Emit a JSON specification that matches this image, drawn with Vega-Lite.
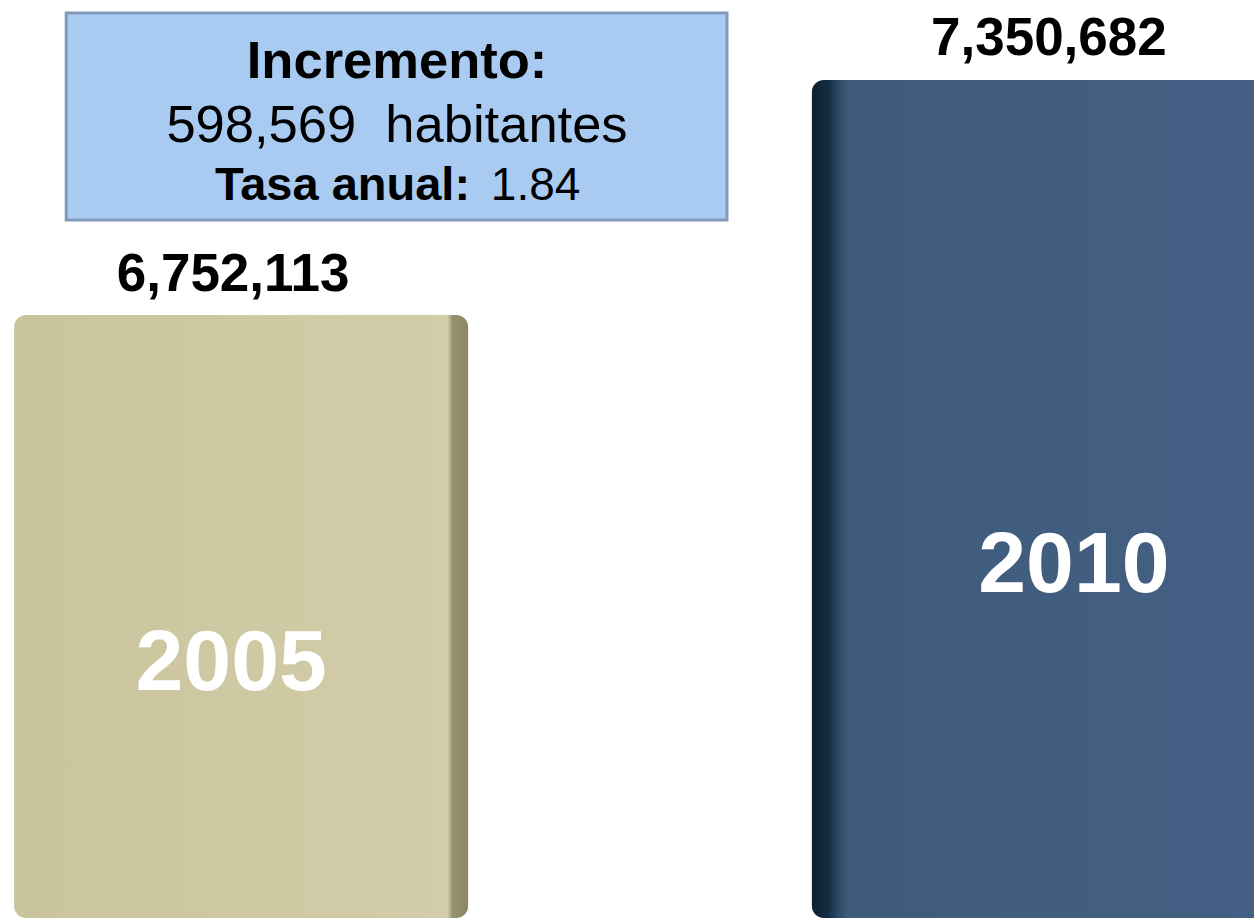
{
  "$schema": "https://vega.github.io/schema/vega-lite/v6.json",
  "width": 1254,
  "height": 918,
  "padding": 0,
  "autosize": {"type": "fit", "contains": "padding"},
  "background": "white",
  "config": {"view": {"stroke": null}, "font": "Liberation Sans"},
  "datasets": {
    "pop": [
      {"year": 2005, "population": 6752113},
      {"year": 2010, "population": 7350682}
    ]
  },
  "resolve": {"scale": {"x": "shared", "y": "shared"}},
  "layer": [
    {
      "data": {"values": [{"label": "box"}]},
      "mark": {"type": "rect", "fill": "#A9CBF2", "stroke": "#8199BA", "strokeWidth": 3},
      "encoding": {
        "x": {"datum": 2003.9035, "type": "quantitative", "scale": {"domain": [2003.52, 2011.317], "nice": false, "zero": false}, "axis": null},
        "x2": {"datum": 2008.045},
        "y": {"datum": 7521339, "type": "quantitative", "scale": {"domain": [5216300, 7554450], "nice": false, "zero": false}, "axis": null},
        "y2": {"datum": 6994110}
      }
    },
    {
      "data": {"name": "pop"},
      "transform": [{"filter": "datum.year == 2005"}],
      "mark": {"type": "bar", "size": 454, "cornerRadius": 12, "clip": true,
        "color": {"gradient": "linear", "x1": 0, "y1": 0, "x2": 1, "y2": 0,
          "stops": [
            {"offset": 0, "color": "#C9C39E"},
            {"offset": 0.5, "color": "#CEC8A3"},
            {"offset": 0.955, "color": "#D3CCA8"},
            {"offset": 0.965, "color": "#979270"},
            {"offset": 1, "color": "#8A8563"}
          ]}},
      "encoding": {
        "x": {"field": "year", "type": "quantitative"},
        "y": {"field": "population", "type": "quantitative"},
        "y2": {"datum": 5216300}
      }
    },
    {
      "data": {"name": "pop"},
      "transform": [{"filter": "datum.year == 2010"}],
      "mark": {"type": "bar", "size": 454, "cornerRadius": 12, "clip": true,
        "color": {"gradient": "linear", "x1": 0, "y1": 0, "x2": 1, "y2": 0,
          "stops": [
            {"offset": 0, "color": "#0D2030"},
            {"offset": 0.035, "color": "#142C42"},
            {"offset": 0.06, "color": "#2F4A68"},
            {"offset": 0.08, "color": "#3E5B7C"},
            {"offset": 1, "color": "#445F83"}
          ]}},
      "encoding": {
        "x": {"field": "year", "type": "quantitative"},
        "y": {"field": "population", "type": "quantitative"},
        "y2": {"datum": 5216300}
      }
    },
    {
      "data": {"name": "pop"},
      "transform": [{"filter": "datum.year == 2005"}],
      "mark": {"type": "text", "fontSize": 53, "fontWeight": "bold", "color": "black", "baseline": "alphabetic", "dy": -24, "dx": -8},
      "encoding": {
        "x": {"field": "year", "type": "quantitative"},
        "y": {"field": "population", "type": "quantitative"},
        "text": {"field": "population", "type": "quantitative", "format": ",d"}
      }
    },
    {
      "data": {"name": "pop"},
      "transform": [{"filter": "datum.year == 2010"}],
      "mark": {"type": "text", "fontSize": 53, "fontWeight": "bold", "color": "black", "baseline": "alphabetic", "dy": -25, "dx": 10},
      "encoding": {
        "x": {"field": "year", "type": "quantitative"},
        "y": {"field": "population", "type": "quantitative"},
        "text": {"field": "population", "type": "quantitative", "format": ",d"}
      }
    },
    {
      "data": {"name": "pop"},
      "transform": [{"filter": "datum.year == 2005"}],
      "mark": {"type": "text", "fontSize": 86, "fontWeight": "bold", "color": "white", "baseline": "alphabetic", "dy": 375, "dx": -10},
      "encoding": {
        "x": {"field": "year", "type": "quantitative"},
        "y": {"field": "population", "type": "quantitative"},
        "text": {"field": "year", "type": "nominal"}
      }
    },
    {
      "data": {"name": "pop"},
      "transform": [{"filter": "datum.year == 2010"}],
      "mark": {"type": "text", "fontSize": 86, "fontWeight": "bold", "color": "white", "baseline": "alphabetic", "dy": 512, "dx": 35},
      "encoding": {
        "x": {"field": "year", "type": "quantitative"},
        "y": {"field": "population", "type": "quantitative"},
        "text": {"field": "year", "type": "nominal"}
      }
    },
    {
      "data": {"values": [{"label": "Incremento:"}]},
      "mark": {"type": "text", "fontSize": 52.5, "fontWeight": "bold", "color": "black", "baseline": "alphabetic", "align": "center"},
      "encoding": {
        "x": {"datum": 2005.977, "type": "quantitative"},
        "y": {"datum": 7355000, "type": "quantitative"},
        "text": {"field": "label", "type": "nominal"}
      }
    },
    {
      "data": {"values": [{"label": "598,569\u00a0 habitantes"}]},
      "mark": {"type": "text", "fontSize": 52.5, "color": "black", "baseline": "alphabetic", "align": "center"},
      "encoding": {
        "x": {"datum": 2005.977, "type": "quantitative"},
        "y": {"datum": 7192776, "type": "quantitative"},
        "text": {"field": "label", "type": "nominal"}
      }
    },
    {
      "data": {"values": [{"label": "Tasa anual:"}]},
      "mark": {"type": "text", "fontSize": 47, "fontWeight": "bold", "color": "black", "baseline": "alphabetic", "align": "right"},
      "encoding": {
        "x": {"datum": 2006.435, "type": "quantitative"},
        "y": {"datum": 7045050, "type": "quantitative"},
        "text": {"field": "label", "type": "nominal"}
      }
    },
    {
      "data": {"values": [{"label": "1.84"}]},
      "mark": {"type": "text", "fontSize": 46, "color": "black", "baseline": "alphabetic", "align": "left"},
      "encoding": {
        "x": {"datum": 2006.565, "type": "quantitative"},
        "y": {"datum": 7045050, "type": "quantitative"},
        "text": {"field": "label", "type": "nominal"}
      }
    }
  ]
}
